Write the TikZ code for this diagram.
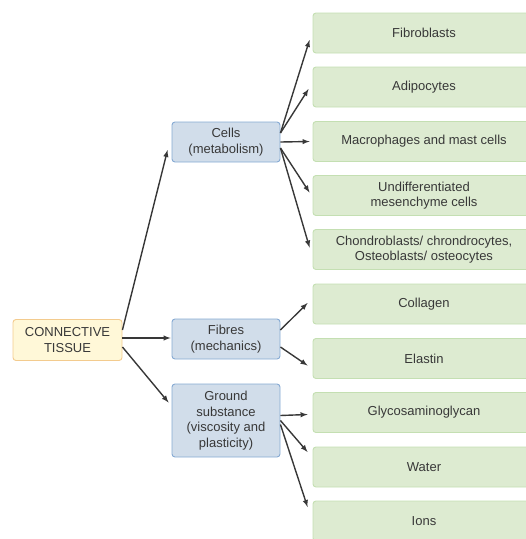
\documentclass[tikz,border=0pt]{standalone}
\usepackage{fontspec}
\setmainfont{Liberation Sans}
\usepackage{tikz}
\usetikzlibrary{arrows,positioning}
\definecolor{txt}{HTML}{383838}
\definecolor{rootfill}{HTML}{FFF8D8}
\definecolor{rootline}{HTML}{F3CB8E}
\definecolor{groupfill}{HTML}{D1DDEA}
\definecolor{groupline}{HTML}{86AAD3}
\definecolor{itemfill}{HTML}{DDEBD1}
\definecolor{itemline}{HTML}{C4DFB2}
\tikzstyle{box}=[rounded corners=3pt,line width=0.9pt,inner sep=0pt,align=center,text=txt,font=\fontsize{13}{15.5}\selectfont]
\tikzstyle{root}=[box,draw=rootline,fill=rootfill,minimum width=109pt,minimum height=41pt]
\tikzstyle{group}=[box,draw=groupline,fill=groupfill,minimum width=108pt]
\tikzstyle{item}=[box,draw=itemline,fill=itemfill,minimum width=222pt,minimum height=40pt]

\begin{document}
\begin{tikzpicture}[x=1pt,y=-1pt,
every edge/.style = {draw, -latex, line width=1.4pt, color=txt}]
\useasboundingbox (0,0) rectangle (526,539);
\node [root] (ct) at (67.5,340) {CONNECTIVE\\TISSUE};
\node [group,minimum height=40pt] (cells) at (226,142) {Cells\\(metabolism)};
\node [group,minimum height=40pt] (fib) at (226,339) {Fibres\\(mechanics)};
\node [group,minimum height=73pt] (gs) at (226,420.5) {Ground\\substance\\(viscosity and\\plasticity)};
\node [item] (fb) at (424,33) {Fibroblasts};
\node [item] (ad) at (424,87) {Adipocytes};
\node [item] (mac) at (424,141.5) {Macrophages and mast cells};
\node [item] (und) at (424,195.5) {Undifferentiated\\mesenchyme cells};
\node [item] (cho) at (424,249.5) {Chondroblasts/ chrondrocytes,\\Osteoblasts/ osteocytes};
\node [item] (col) at (424,304) {Collagen};
\node [item] (ela) at (424,358.5) {Elastin};
\node [item] (gag) at (424,412.5) {Glycosaminoglycan};
\node [item] (wat) at (424,467) {Water};
\node [item] (ion) at (424,521) {Ions};

\path ([yshift=10pt]ct.east) edge ([xshift=-4pt,yshift=-8pt]cells.west)
      ([yshift=2pt]ct.east) edge ([xshift=-1pt,yshift=1pt]fib.west)
      ([yshift=-7pt]ct.east) edge ([xshift=-3pt,yshift=18pt]gs.west);
\path ([yshift=9pt]cells.east) edge ([xshift=-3pt,yshift=-7pt]fb.west)
      ([yshift=9pt]cells.east) edge ([xshift=-4pt,yshift=-2pt]ad.west)
      (cells.east) edge ([xshift=-3pt]mac.west)
      ([yshift=-6pt]cells.east) edge ([xshift=-3pt,yshift=3pt]und.west)
      ([yshift=-6pt]cells.east) edge ([xshift=-3pt,yshift=2pt]cho.west);
\path ([yshift=9pt]fib.east) edge ([xshift=-5pt,yshift=1pt]col.west)
      ([yshift=-8pt]fib.east) edge ([xshift=-5pt,yshift=-7pt]ela.west);
\path ([yshift=5pt]gs.east) edge ([xshift=-5pt,yshift=-2pt]gag.west)
      ([yshift=0pt]gs.east) edge ([xshift=-5pt,yshift=15pt]wat.west)
      ([yshift=-4pt]gs.east) edge ([xshift=-5pt,yshift=14pt]ion.west);
\end{tikzpicture}
\end{document}
